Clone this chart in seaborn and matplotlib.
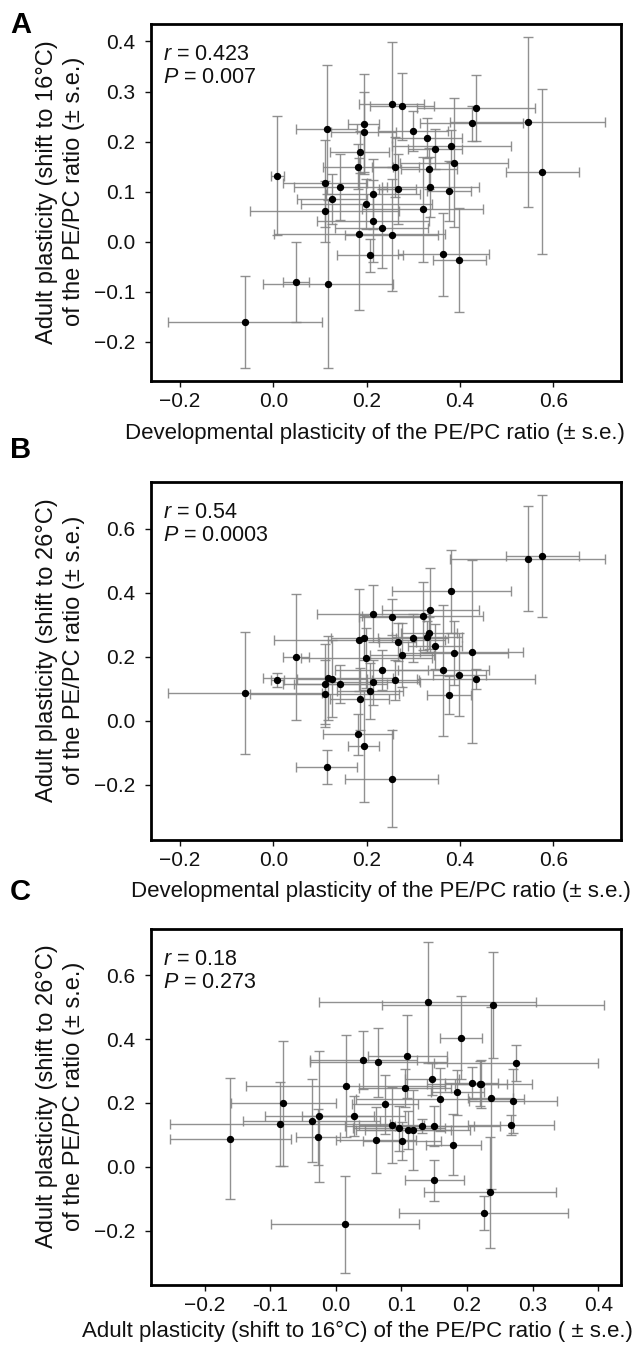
import matplotlib
matplotlib.use("Agg")
import numpy as np
import pandas as pd
import seaborn as sns
import matplotlib.pyplot as plt

# one entry per species, same order in every array
dev = [-0.060, 0.008, 0.048, 0.114, 0.117, 0.110, 0.110, 0.126, 0.143, 0.181,
       0.185, 0.193, 0.193, 0.184, 0.199, 0.213, 0.214, 0.207, 0.232, 0.253,
       0.275, 0.253, 0.261, 0.266, 0.299, 0.320, 0.330, 0.333, 0.336, 0.347,
       0.364, 0.376, 0.381, 0.387, 0.398, 0.425, 0.434, 0.545, 0.576]
dev_se = [0.165, 0.014, 0.028, 0.066, 0.139, 0.090, 0.160, 0.075, 0.100, 0.075,
          0.063, 0.070, 0.034, 0.183, 0.140, 0.100, 0.120, 0.070, 0.100, 0.070,
          0.068, 0.099, 0.050, 0.040, 0.075, 0.130, 0.075, 0.060, 0.104, 0.058,
          0.098, 0.047, 0.128, 0.116, 0.057, 0.110, 0.126, 0.166, 0.078]
a16 = [-0.161, 0.132, -0.080, 0.225, -0.085, 0.117, 0.061, 0.085, 0.110, 0.150,
       0.179, 0.219, 0.235, 0.015, 0.075, 0.096, 0.042, -0.027, 0.027, 0.274,
       0.270, 0.014, 0.150, 0.106, 0.221, 0.065, 0.207, 0.146, 0.109, 0.185,
       -0.025, 0.101, 0.191, 0.158, -0.037, 0.236, 0.267, 0.239, 0.140]
a16_se = [0.092, 0.118, 0.080, 0.129, 0.168, 0.087, 0.061, 0.050, 0.066, 0.045,
          0.042, 0.080, 0.100, 0.152, 0.050, 0.070, 0.082, 0.033, 0.079, 0.125,
          0.067, 0.112, 0.060, 0.070, 0.040, 0.105, 0.040, 0.041, 0.060, 0.040,
          0.083, 0.060, 0.032, 0.128, 0.104, 0.034, 0.065, 0.169, 0.165]
a26 = [0.088, 0.129, 0.199, -0.144, 0.134, 0.115, 0.085, 0.131, 0.115, -0.042,
       0.069, 0.260, -0.079, 0.252, 0.196, 0.121, 0.335, 0.094, 0.159, 0.325,
       0.207, -0.180, 0.127, 0.247, 0.259, 0.327, 0.262, 0.275, 0.346, 0.233,
       0.158, 0.080, 0.404, 0.211, 0.144, 0.216, 0.131, 0.507, 0.515]
a26_se = [0.190, 0.022, 0.196, 0.054, 0.132, 0.125, 0.104, 0.120, 0.060, 0.065,
          0.096, 0.070, 0.174, 0.160, 0.093, 0.070, 0.090, 0.088, 0.063, 0.057,
          0.100, 0.151, 0.063, 0.060, 0.076, 0.107, 0.050, 0.050, 0.130, 0.070,
          0.205, 0.060, 0.130, 0.100, 0.130, 0.285, 0.030, 0.165, 0.190]

stats_a = ("0.423", "0.007")
stats_b = ("0.54", "0.0003")
stats_c = ("0.18", "0.273")

df = pd.DataFrame({"dev": dev, "dev_se": dev_se, "a16": a16, "a16_se": a16_se,
                   "a26": a26, "a26_se": a26_se})

sns.set_theme(style="ticks")
plt.rcParams["font.family"] = ["Liberation Sans", "DejaVu Sans"]
plt.rcParams["mathtext.fontset"] = "custom"
plt.rcParams["mathtext.rm"] = "Liberation Sans"
plt.rcParams["mathtext.it"] = "Liberation Sans:italic"
plt.rcParams["text.color"] = "#111111"
plt.rcParams["axes.labelcolor"] = "#111111"
plt.rcParams["xtick.color"] = "#111111"
plt.rcParams["ytick.color"] = "#111111"

fig = plt.figure(figsize=(6.39, 13.55), dpi=100)
left, width = 150.7 / 639, 470 / 639
ax_a = fig.add_axes([left, 974 / 1355, width, 357 / 1355])
ax_b = fig.add_axes([left, 515 / 1355, width, 357.7 / 1355])
ax_c = fig.add_axes([left, 70 / 1355, width, 355.7 / 1355])

dev_lab = "Developmental plasticity of the PE/PC ratio (\u00b1 s.e.)"
panels = [
    (ax_a, "dev", "dev_se", "a16", "a16_se", stats_a, dev_lab,
     "Adult plasticity (shift to 16\u00b0C)\nof the PE/PC ratio (\u00b1 s.e.)",
     (0.477, -0.118)),
    (ax_b, "dev", "dev_se", "a26", "a26_se", stats_b, dev_lab,
     "Adult plasticity (shift to 26\u00b0C)\nof the PE/PC ratio (\u00b1 s.e.)",
     (0.49, -0.115)),
    (ax_c, "a16", "a16_se", "a26", "a26_se", stats_c,
     "Adult plasticity (shift to 16\u00b0C) of the PE/PC ratio ( \u00b1 s.e.)",
     "Adult plasticity (shift to 26\u00b0C)\nof the PE/PC ratio (\u00b1 s.e.)",
     (0.44, -0.10)),
]

for ax, xc, xe, yc, ye, (r, p), xlab, ylab, xlab_pos in panels:
    ax.errorbar(df[xc], df[yc], xerr=df[xe], yerr=df[ye], fmt="none",
                ecolor="#858585", elinewidth=1.0, capsize=3.5, capthick=1.0,
                alpha=0.9, zorder=2)
    sns.scatterplot(data=df, x=xc, y=yc, ax=ax, color="black", s=28,
                    linewidth=0, zorder=3)
    ax.set_xlabel(xlab, fontsize=16)
    ax.set_ylabel(ylab, fontsize=17, linespacing=1.3)
    ax.xaxis.set_label_coords(*xlab_pos)
    ax.yaxis.set_label_coords(-0.14, 0.53)
    for s in ax.spines.values():
        s.set_visible(True)
        s.set_linewidth(2.0)
        s.set_color("black")
    ax.tick_params(direction="out", length=4, width=1, labelsize=15,
                   top=False, right=False)
    ax.tick_params(axis="x", pad=4)
    ax.tick_params(axis="y", pad=7)
    ax.text(0.027, 0.899, rf"$\mathit{{r}}$ = {r}", transform=ax.transAxes,
            fontsize=15.5, va="baseline")
    ax.text(0.027, 0.835, rf"$\mathit{{P}}$ = {p}", transform=ax.transAxes,
            fontsize=15.5, va="baseline")

ax_a.set_xlim(-0.263, 0.744)
ax_a.set_ylim(-0.279, 0.435)
ax_a.set_xticks([-0.2, 0.0, 0.2, 0.4, 0.6])
ax_a.set_yticks([-0.2, -0.1, 0.0, 0.1, 0.2, 0.3, 0.4])

ax_b.set_xlim(-0.263, 0.744)
ax_b.set_ylim(-0.372, 0.745)
ax_b.set_xticks([-0.2, 0.0, 0.2, 0.4, 0.6])
ax_b.set_yticks([-0.2, 0.0, 0.2, 0.4, 0.6])

ax_c.set_xlim(-0.282, 0.434)
ax_c.set_ylim(-0.370, 0.744)
ax_c.set_xticks([-0.2, -0.1, 0.0, 0.1, 0.2, 0.3, 0.4])
ax_c.set_xticklabels(["\u22120.2", "-0.1", "0.0", "0.1", "0.2", "0.3", "0.4"])
ax_c.set_yticks([-0.2, 0.0, 0.2, 0.4, 0.6])

for letter, ybase in [("A", 33), ("B", 458), ("C", 900)]:
    fig.text(10 / 639, 1 - ybase / 1355, letter, fontsize=21, fontweight="bold",
             va="baseline", ha="left", color="black")

fig.savefig("out.png", dpi=100)
